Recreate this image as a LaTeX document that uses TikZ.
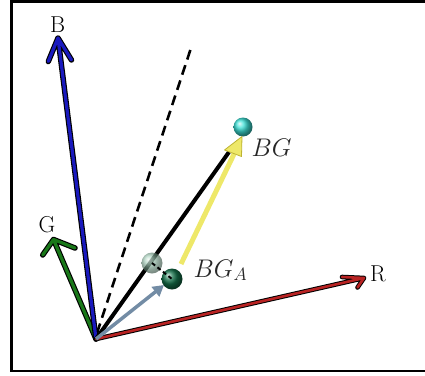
\RequirePackage{fix-cm}
\documentclass[tikz,border=0pt]{standalone}
\usetikzlibrary{arrows.meta}
\definecolor{bblue}{RGB}{25,25,190}
\definecolor{ggreen}{RGB}{25,120,25}
\definecolor{rred}{RGB}{185,35,35}
\definecolor{yarrow}{RGB}{238,232,105}
\definecolor{ydark}{RGB}{190,180,50}
\definecolor{steel}{RGB}{115,140,165}
\definecolor{cyanball}{RGB}{60,225,215}
\definecolor{greenball}{RGB}{20,115,75}
\definecolor{ghostball}{RGB}{150,200,175}
\begin{document}
\begin{tikzpicture}[x=1pt,y=-1pt,
  tube/.style={line width=5.5pt,line join=round,line cap=round,draw=black},
  tubein/.style={line width=3.2pt,line join=round,line cap=round,draw=#1},
  axlabel/.style={font=\fontsize{23}{26}\selectfont,anchor=base,inner sep=0pt},
  vlabel/.style={font=\fontsize{25.5}{29}\selectfont,anchor=base west,inner sep=0pt,text=black!85}
]
\useasboundingbox (0,0) rectangle (425,375);
% frame
\draw[line width=2.5pt] (425,1.5) -- (11.5,1.5) -- (11.5,371) -- (425,371);

% coordinates
\coordinate (O) at (96,339);
\coordinate (Btip) at (58,38);
\coordinate (BL) at (48.3,61.5);
\coordinate (BR) at (71.5,60);
\coordinate (Gtip) at (53.5,239.5);
\coordinate (GL) at (42.7,255);
\coordinate (GR) at (75,248);
\coordinate (Rtip) at (364,278);
\coordinate (RL) at (342,277);
\coordinate (RR) at (357.5,287.5);
\coordinate (Dend) at (192,45);
\coordinate (Kend) at (229,152);

% dashed line
\draw[line width=2.6pt,dash pattern=on 10pt off 6pt] (97,333) -- (Dend);

% G arrow
\draw[tube] (O) -- (Gtip) (GL) -- (Gtip) -- (GR);
\draw[tubein=ggreen] (O) -- (Gtip) (GL) -- (Gtip) -- (GR);
% B arrow
\draw[tube] (O) -- (Btip) (BL) -- (Btip) -- (BR);
\draw[tubein=bblue] (O) -- (Btip) (BL) -- (Btip) -- (BR);
% R arrow
\draw[tube,line width=4.6pt] (O) -- (Rtip) (RL) -- (Rtip) -- (RR);
\draw[tubein=rred,line width=2.6pt] (O) -- (Rtip) (RL) -- (Rtip) -- (RR);

% black line
\draw[line width=4pt] (O) -- (Kend);

% ghost sphere and link
\node[circle,minimum size=21pt,inner sep=0pt,ball color=ghostball,opacity=0.7] (ghost) at (152,263) {};
\node[circle,minimum size=21pt,inner sep=0pt,ball color=greenball] (bga) at (172,279) {};
\draw[line width=2pt,dash pattern=on 4pt off 3pt] (ghost.center) -- (bga.center);

% steel arrow
\draw[line width=3.5pt,steel,-{Triangle[length=11pt,width=12pt]}] (O) -- (164,285);

% BG sphere
\node[circle,minimum size=19pt,inner sep=0pt,ball color=cyanball] (bg) at (243,127) {};

% yellow arrow
\draw[line width=5pt,yarrow] (181,264) -- (234,154);
\filldraw[fill=yarrow,draw=ydark,line width=0.8pt,line join=round] (242,136.5) -- (224.5,150) -- (241.5,156.5) -- cycle;

% labels
\node[axlabel] (Blab) at (57.7,32.3) {B};
\node[axlabel] (Glab) at (47,232.3) {G};
\node[axlabel] (Rlab) at (378,281) {R};
\node[vlabel] (BGlab) at (251.5,156.5) {$BG$};
\node[vlabel] (BGAlab) at (193.5,277) {$BG_A$};
\end{tikzpicture}
\end{document}
